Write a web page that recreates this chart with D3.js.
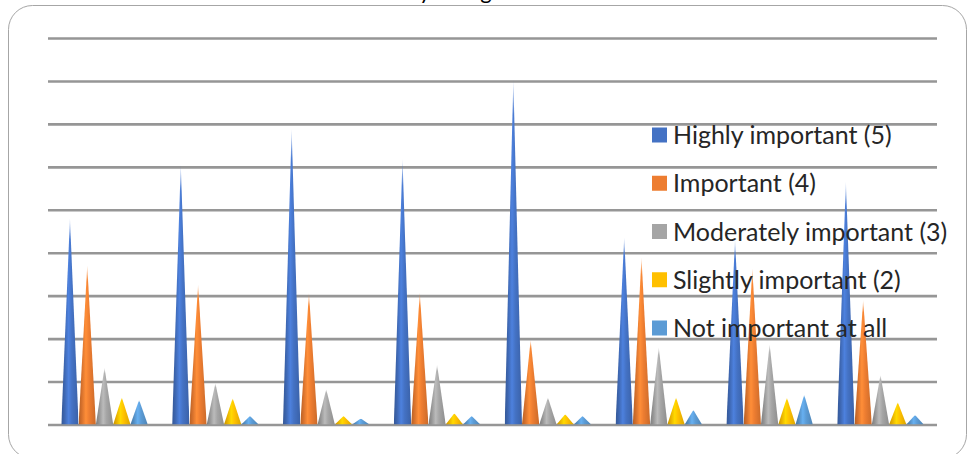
<!DOCTYPE html>
<html>
<head>
<meta charset="utf-8">
<script src="https://cdn.jsdelivr.net/npm/d3@7/dist/d3.min.js"></script>
<style>
  html, body { margin: 0; padding: 0; background: #fff; }
  svg { display: block; }
</style>
</head>
<body>
<svg id="chart" width="968" height="454"></svg>
<script>
// Rating distribution for eight items, one cone per rating level
const categories = ["Item 1", "Item 2", "Item 3", "Item 4", "Item 5", "Item 6", "Item 7", "Item 8"];
const seriesNames = ["Highly important (5)", "Important (4)", "Moderately important (3)", "Slightly important (2)", "Not important at all"];
const highlyImportant     = [48, 60.4, 68.8, 61.8, 80.2, 43.6, 43, 56.5];
const important           = [37.1, 32.6, 30.6, 30.7, 19.7, 38.9, 36.4, 29];
const moderatelyImportant = [13.2, 9.6, 8.2, 13.9, 6.3, 18, 18.7, 11.5];
const slightlyImportant   = [6.3, 6.1, 2, 2.6, 2.4, 6.3, 6.2, 5.2];
const notImportantAtAll   = [5.7, 2, 1.4, 2, 2, 3.4, 6.9, 2.2];
const gridValues = [0, 10, 20, 30, 40, 50, 60, 70, 80, 90];
const titleText = "Survey ratings";

const seriesValues = [highlyImportant, important, moderatelyImportant, slightlyImportant, notImportantAtAll];
const colors = ["#4472C4", "#ED7D31", "#A5A5A5", "#FFC000", "#5B9BD5"];

const svg = d3.select("#chart");
const defs = svg.append("defs");

// Chart area frame (runs past the bottom and right edges)
svg.append("rect")
  .attr("x", 8.5).attr("y", 5.5)
  .attr("width", 958).attr("height", 453)
  .attr("rx", 24).attr("ry", 24)
  .attr("fill", "#fff")
  .attr("stroke", "#a6a6a6").attr("stroke-width", 1);

// Title, sitting above the frame's top edge
svg.append("text")
  .attr("x", 433).attr("y", -1)
  .attr("text-anchor", "middle")
  .attr("font-family", "Lato, 'Open Sans', sans-serif")
  .attr("font-size", 22)
  .attr("fill", "#000")
  .text(titleText);

const plot = { left: 48, right: 937, top: 38, bottom: 424.5 };

const y = d3.scaleLinear().domain([0, 90]).range([plot.bottom, plot.top]);
const x0 = d3.scaleBand().domain(categories).range([plot.left, plot.right])
  .paddingInner(0.22).paddingOuter(0.12);
const x1 = d3.scaleBand().domain(d3.range(seriesNames.length)).range([0, x0.bandwidth()]).padding(0);

// Horizontal gridlines
const grid = svg.append("g")
  .attr("transform", `translate(${plot.left},0)`)
  .call(d3.axisLeft(y).tickValues(gridValues).tickSize(-(plot.right - plot.left)).tickFormat(""));
grid.select(".domain").remove();
grid.selectAll(".tick line").attr("stroke", "#969696").attr("stroke-width", 2.6);

// Shading for the cones: dark edge, bright highlight, darker far side
function shade(c, k) { return d3.color(c)[k > 0 ? "brighter" : "darker"](Math.abs(k)).formatHex(); }
colors.forEach((c, i) => {
  const g = defs.append("linearGradient").attr("id", "cone" + i)
    .attr("x1", 0).attr("x2", 1).attr("y1", 0).attr("y2", 0);
  g.append("stop").attr("offset", "0%").attr("stop-color", shade(c, -0.75));
  g.append("stop").attr("offset", "18%").attr("stop-color", shade(c, -0.3));
  g.append("stop").attr("offset", "42%").attr("stop-color", shade(c, 0.35));
  g.append("stop").attr("offset", "62%").attr("stop-color", c);
  g.append("stop").attr("offset", "100%").attr("stop-color", shade(c, -0.45));
});
// Tips fade out slightly
const fade = defs.append("linearGradient").attr("id", "tipFade")
  .attr("x1", 0).attr("x2", 0).attr("y1", 0).attr("y2", 1);
fade.append("stop").attr("offset", "0%").attr("stop-color", "#fff").attr("stop-opacity", 0.25);
fade.append("stop").attr("offset", "10%").attr("stop-color", "#fff").attr("stop-opacity", 1);
fade.append("stop").attr("offset", "100%").attr("stop-color", "#fff").attr("stop-opacity", 1);
defs.append("mask").attr("id", "tipMask").attr("maskContentUnits", "objectBoundingBox")
  .append("rect").attr("width", 1).attr("height", 1).attr("fill", "url(#tipFade)");

const cones = [];
categories.forEach((cat, ci) => {
  seriesValues.forEach((vals, si) => {
    cones.push({ cat, si, v: vals[ci] });
  });
});

svg.append("g").selectAll("path")
  .data(cones)
  .join("path")
  .attr("d", d => {
    const xl = x0(d.cat) + x1(d.si);
    const w = x1.bandwidth();
    const base = y(0), tip = y(d.v);
    return `M${xl},${base}L${xl + w / 2},${tip}L${xl + w},${base}Z`;
  })
  .attr("fill", d => `url(#cone${d.si})`)
  .attr("mask", "url(#tipMask)");

// Legend
const legend = svg.append("g");
const legendY = d3.scalePoint().domain(seriesNames).range([135, 328]);
seriesNames.forEach((name, i) => {
  const cy = legendY(name);
  legend.append("rect")
    .attr("x", 652).attr("y", cy - 7.5).attr("width", 15).attr("height", 15)
    .attr("fill", colors[i]);
  legend.append("text")
    .attr("x", 673).attr("y", cy)
    .attr("dy", "0.36em")
    .attr("font-family", "Lato, 'Open Sans', sans-serif")
    .attr("font-size", 25)
    .attr("fill", "#262626")
    .text(name);
});
</script>
</body>
</html>
